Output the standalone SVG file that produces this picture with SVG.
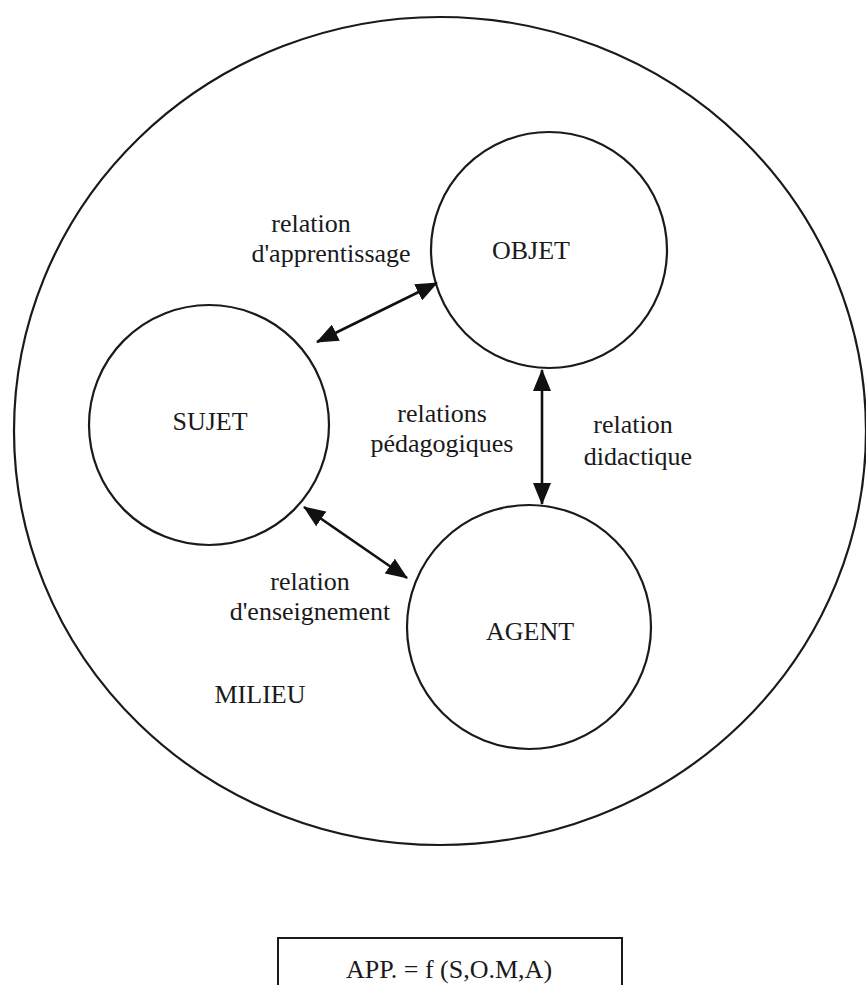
<svg xmlns="http://www.w3.org/2000/svg" width="866" height="985" viewBox="0 0 866 985">
<defs>
<style>
.ring{fill:none;stroke:#1a1a1a;stroke-width:2.2}
.lbl{font-family:"Liberation Serif","Times New Roman",serif;font-size:26px;fill:#1a1a1a;text-anchor:middle}
.conn{stroke:#111;stroke-width:2.6;fill:none;marker-start:url(#ah);marker-end:url(#ah)}
</style>
<marker id="ah" markerUnits="userSpaceOnUse" markerWidth="22" markerHeight="18" refX="21" refY="9" orient="auto-start-reverse">
<path d="M0,0 L22,9 L0,18 z" fill="#111"/>
</marker>
</defs>
<rect width="866" height="985" fill="#fff"/>
<g id="milieu">
<ellipse class="ring" cx="440" cy="431" rx="426" ry="414"/>
<text class="lbl" x="260" y="703">MILIEU</text>
</g>
<g id="sujet">
<circle class="ring" cx="209" cy="425" r="120"/>
<text class="lbl" x="210" y="430">SUJET</text>
</g>
<g id="objet">
<circle class="ring" cx="549" cy="250" r="118"/>
<text class="lbl" x="531" y="259">OBJET</text>
</g>
<g id="agent">
<circle class="ring" cx="529" cy="627" r="122"/>
<text class="lbl" x="530" y="640">AGENT</text>
</g>
<g id="connectors">
<line class="conn" x1="317" y1="342" x2="437" y2="283"/>
<line class="conn" x1="304" y1="507" x2="407" y2="578"/>
<line class="conn" x1="542" y1="370" x2="542" y2="504"/>
</g>
<g id="labels">
<text class="lbl" x="311" y="232">relation</text>
<text class="lbl" x="331" y="262">d'apprentissage</text>
<text class="lbl" x="442" y="422">relations</text>
<text class="lbl" x="442" y="452">pédagogiques</text>
<text class="lbl" x="633" y="433">relation</text>
<text class="lbl" x="638" y="465">didactique</text>
<text class="lbl" x="310" y="590">relation</text>
<text class="lbl" x="310" y="620">d'enseignement</text>
</g>
<g id="formula">
<path d="M278,985 L278,938 L622,938 L622,985" fill="none" stroke="#1a1a1a" stroke-width="2"/>
<text class="lbl" x="449" y="978">APP. = f (S,O.M,A)</text>
</g>
</svg>
